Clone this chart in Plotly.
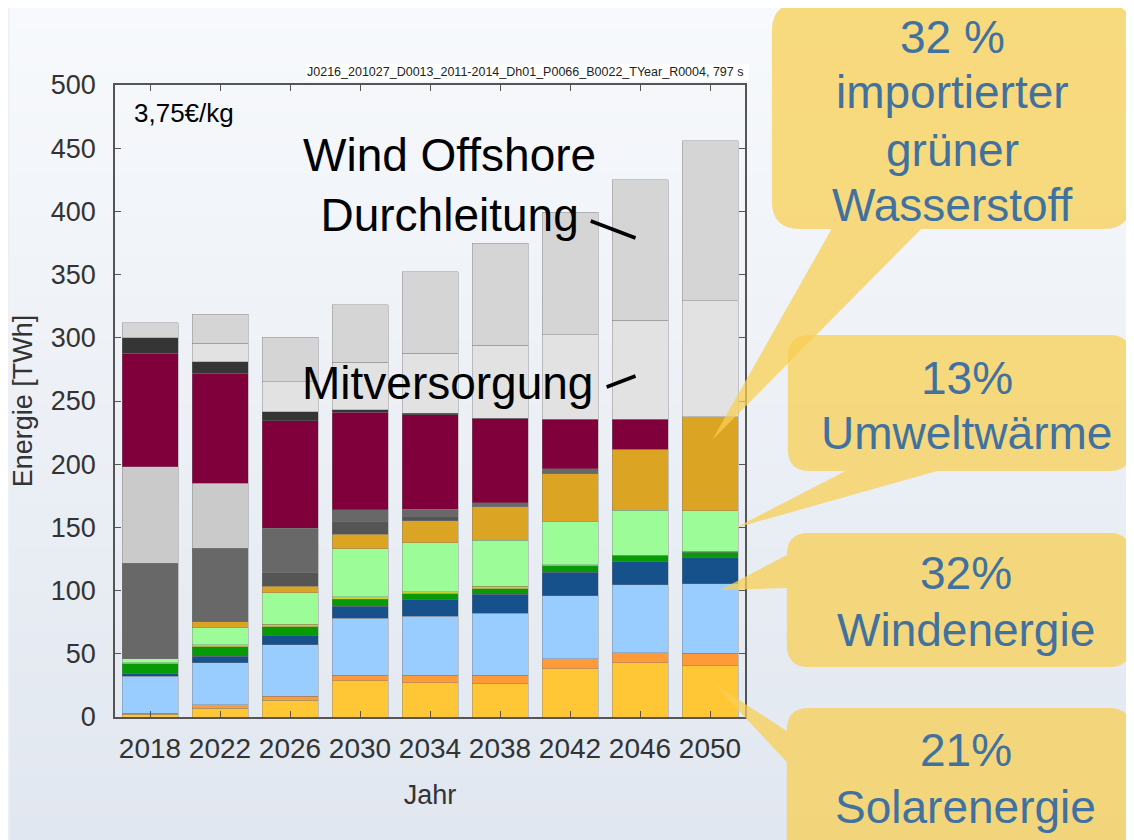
import plotly.graph_objects as go

# ---------------- data ----------------
years = ["2018", "2022", "2026", "2030", "2034", "2038", "2042", "2046", "2050"]

solar_pv      = [2.0, 7.0, 13.4, 28.7, 27.1, 26.6, 38.0, 43.0, 40.5]
solar_thermal = [1.0, 2.5, 3.2, 4.5, 6.1, 6.6, 8.0, 8.0, 10.0]
wind_onshore  = [29.4, 33.5, 40.4, 44.9, 46.7, 48.8, 50.0, 53.5, 55.0]
wind_offshore = [2.0, 5.0, 7.5, 9.5, 12.7, 15.0, 18.5, 18.5, 21.0]
hydro         = [7.6, 7.5, 7.0, 5.5, 4.9, 4.5, 5.0, 4.5, 4.0]
biomass       = [1.0, 1.5, 2.0, 2.0, 1.6, 2.1, 1.0, 0.5, 0.5]
ambient_heat  = [3.0, 13.7, 25.0, 38.0, 38.8, 36.4, 34.5, 35.5, 32.0]
h2_import     = [0.0, 4.7, 4.8, 11.3, 17.4, 26.4, 37.5, 48.5, 74.5]
natural_gas   = [0.0, 0.0, 10.9, 10.2, 3.7, 0.0, 0.0, 0.0, 0.0]
coal          = [75.6, 58.0, 35.1, 9.3, 5.3, 3.1, 4.0, 0.0, 0.0]
nuclear       = [76.4, 51.5, 0.0, 0.0, 0.0, 0.0, 0.0, 0.0, 0.0]
oil           = [89.7, 87.0, 85.1, 77.3, 74.7, 66.8, 39.0, 23.5, 0.0]
other         = [12.3, 9.1, 7.2, 1.8, 1.3, 0.0, 0.0, 0.0, 0.0]
co_supply     = [0.0, 14.6, 23.7, 37.6, 47.4, 58.0, 67.0, 78.5, 92.0]
offshore_pass = [12.0, 23.2, 35.1, 45.7, 64.6, 80.4, 97.0, 111.0, 126.5]

series = [
    ("Photovoltaik", solar_pv, "#FFC736"),
    ("Solarthermie", solar_thermal, "#FF9A38"),
    ("Wind Onshore", wind_onshore, "#99CCFF"),
    ("Wind Offshore", wind_offshore, "#16518C"),
    ("Wasserkraft", hydro, "#079A07"),
    ("Biomasse", biomass, "#C6D02C"),
    ("Umweltwärme", ambient_heat, "#9CFD98"),
    ("Import Wasserstoff", h2_import, "#DBA523"),
    ("Erdgas", natural_gas, "#555555"),
    ("Kohle", coal, "#686868"),
    ("Kernenergie", nuclear, "#CACACA"),
    ("Mineralöl", oil, "#80003C"),
    ("Sonstige", other, "#353535"),
    ("Mitversorgung", co_supply, "#E2E2E2"),
    ("Wind Offshore Durchleitung", offshore_pass, "#D5D5D5"),
]

callout_lines = [
    ["32 %", "importierter", "grüner", "Wasserstoff"],
    ["13%", "Umweltwärme"],
    ["32%", "Windenergie"],
    ["21%", "Solarenergie"],
]

FONT = "Liberation Sans, Arial, sans-serif"

fig = go.Figure()
for name, vals, col in series:
    fig.add_trace(go.Bar(
        x=years, y=vals, name=name,
        marker=dict(color=col, line=dict(color="rgba(120,120,120,0.55)", width=0.7)),
    ))

# ---------------- geometry helpers (window pixel -> paper) ----------------
OFF = 8                      # browser body margin
WIN_W, WIN_H = 1134, 840
W, H = WIN_W - OFF, WIN_H - OFF
PL, PR, PT, PB = 112, 745, 85, 717   # plot area in window pixels


def px(x):
    return (x - PL) / (PR - PL)


def py(y):
    return (PB - y) / (PB - PT)


def P(x, y):
    return f"{px(x):.5f},{py(y):.5f}"


shapes = []

# background gradient
N = 40
top_c = (247, 249, 252)
bot_c = (225, 231, 240)
for i in range(N):
    t = i / (N - 1)
    c = tuple(round(top_c[k] + (bot_c[k] - top_c[k]) * t) for k in range(3))
    y0 = OFF + H * i / N - 1
    y1 = OFF + H * (i + 1) / N + 1
    shapes.append(dict(type="rect", xref="paper", yref="paper", layer="below",
                       x0=px(OFF - 2), x1=px(WIN_W + 2), y0=py(y0), y1=py(y1),
                       fillcolor=f"rgb{c}", line=dict(width=0)))

# white box behind the run id
shapes.append(dict(type="rect", xref="paper", yref="paper", layer="below",
                   x0=px(303), x1=px(749), y0=py(64), y1=py(81),
                   fillcolor="white", line=dict(width=0)))


def callout(x0, y0, x1, y1, r, pointer):
    d = f"M {P(x0 + r, y0)} L {P(x1 - r, y0)} Q {P(x1, y0)} {P(x1, y0 + r)} "
    d += f"L {P(x1, y1 - r)} Q {P(x1, y1)} {P(x1 - r, y1)} "
    if pointer[0] == "bottom":
        _, xa, xb, tx, ty = pointer
        d += f"L {P(xb, y1)} L {P(tx, ty)} L {P(xa, y1)} "
    d += f"L {P(x0 + r, y1)} Q {P(x0, y1)} {P(x0, y1 - r)} "
    if pointer[0] == "left":
        _, ya, yb, tx, ty = pointer
        d += f"L {P(x0, yb)} L {P(tx, ty)} L {P(x0, ya)} "
    d += f"L {P(x0, y0 + r)} Q {P(x0, y0)} {P(x0 + r, y0)} Z"
    return dict(type="path", xref="paper", yref="paper", layer="above", path=d,
                fillcolor="rgba(248,206,82,0.74)", line=dict(width=0))


shapes.append(callout(772, 3, 1133, 229, 28, ("bottom", 832, 922, 712, 440)))
shapes.append(callout(788, 335, 1133, 471, 22, ("bottom", 846, 938, 735, 528)))
shapes.append(callout(787, 533, 1133, 667, 22, ("left", 555, 588, 720, 590)))
shapes.append(callout(787, 708, 1133, 880, 22, ("left", 731, 762, 713, 683)))

# leader lines for labels
shapes.append(dict(type="line", xref="paper", yref="paper", x0=px(590), y0=py(221),
                   x1=px(635), y1=py(238), line=dict(color="black", width=3.5)))
shapes.append(dict(type="line", xref="paper", yref="paper", x0=px(606), y0=py(387),
                   x1=px(635), y1=py(376), line=dict(color="black", width=3.5)))

BLUE = "#41729F"
annotations = []
# callout texts, one annotation per line
callout_pos = [
    (953, [37, 92, 150, 205]),
    (968, [378, 433]),
    (967, [573, 630]),
    (967, [750, 807]),
]
for lines, (cx, ys) in zip(callout_lines, callout_pos):
    for txt, yy in zip(lines, ys):
        annotations.append(dict(text=txt, x=px(cx), y=py(yy),
                                font=dict(size=46, color=BLUE, family=FONT)))

annotations += [
    dict(text="Wind Offshore<br>Durchleitung", x=px(448), y=py(185),
         font=dict(size=46, color="black", family=FONT)),
    dict(text="Mitversorgung", x=px(446), y=py(383),
         font=dict(size=46, color="black", family=FONT)),
    dict(text="3,75€/kg", x=px(129), y=py(113), xanchor="left",
         font=dict(size=26, color="black", family=FONT)),
    dict(text="J0216_201027_D0013_2011-2014_Dh01_P0066_B0022_TYear_R0004, 797 s",
         x=px(746), y=py(72), xanchor="right",
         font=dict(size=12.5, color="#222222", family=FONT)),
]
for a in annotations:
    a.setdefault("xanchor", "center")
    a.update(xref="paper", yref="paper", yanchor="middle", showarrow=False, align="center")

fig.update_layout(
    width=W, height=H,
    barmode="stack", bargap=0.2,
    showlegend=False,
    paper_bgcolor="#EDF1F6",
    plot_bgcolor="rgba(0,0,0,0)",
    margin=dict(l=PL - OFF, r=WIN_W - PR, t=PT - OFF, b=WIN_H - PB),
    shapes=shapes,
    annotations=annotations,
    font=dict(family=FONT, color="#333333"),
    xaxis=dict(
        type="category", range=[-0.5, 8.5],
        showline=True, mirror="ticks", linecolor="#555555", linewidth=1.5,
        ticks="inside", ticklen=6, tickcolor="#555555", tickwidth=1.2,
        tickfont=dict(size=28, color="#333333"), ticklabelstandoff=6,
        title=dict(text="Jahr", font=dict(size=27, color="#333333"), standoff=22),
        showgrid=False, zeroline=False,
    ),
    yaxis=dict(
        range=[0, 500], dtick=50,
        showline=True, mirror="ticks", linecolor="#555555", linewidth=1.5,
        ticks="inside", ticklen=6, tickcolor="#555555", tickwidth=1.2,
        tickfont=dict(size=27, color="#333333"), ticklabelstandoff=12,
        title=dict(text="Energie [TWh]", font=dict(size=27, color="#333333"), standoff=12),
        showgrid=False, zeroline=False,
    ),
)

fig.write_html("out.html")
